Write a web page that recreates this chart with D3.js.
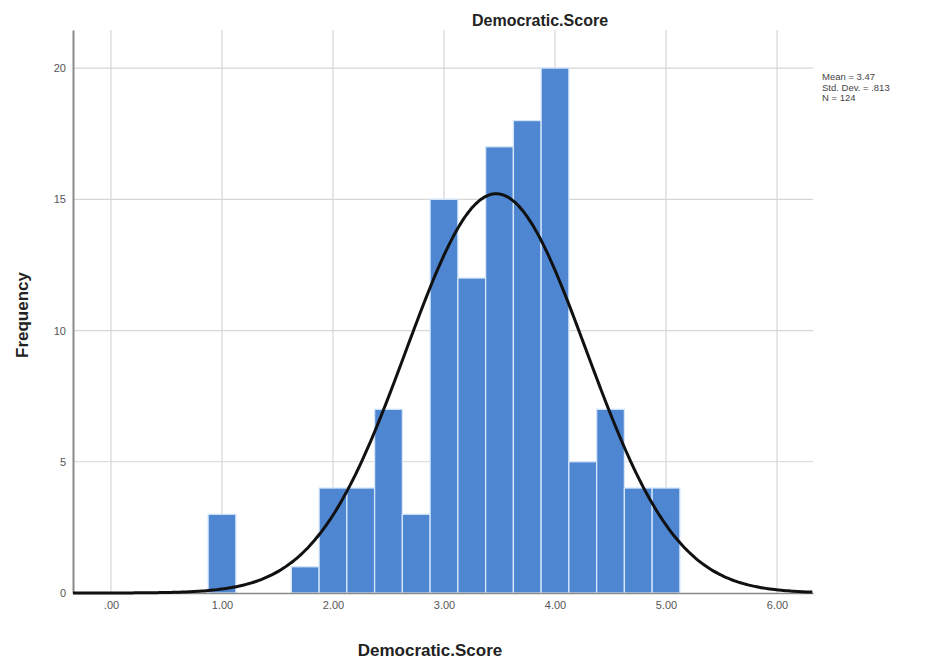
<!DOCTYPE html>
<html>
<head>
<meta charset="utf-8">
<script src="https://cdn.jsdelivr.net/npm/d3@7"></script>
<style>
  body { margin: 0; background: #fff; }
  svg { font-family: "Liberation Sans", Arial, sans-serif; }
</style>
</head>
<body>
<div class="chart"></div>
<script>

// histogram bins (lower edge, upper edge) and counts
var binStart = [0.875, 1.625, 1.875, 2.125, 2.375, 2.625, 2.875, 3.125, 3.375, 3.625, 3.875, 4.125, 4.375, 4.625, 4.875];
var binEnd = [1.125, 1.875, 2.125, 2.375, 2.625, 2.875, 3.125, 3.375, 3.625, 3.875, 4.125, 4.375, 4.625, 4.875, 5.125];
var counts = [3, 1, 4, 4, 7, 3, 15, 12, 17, 18, 20, 5, 7, 4, 4];
var xTicks = [0, 1, 2, 3, 4, 5, 6];
var yTicks = [0, 5, 10, 15, 20];
var stats = ["Mean = 3.47", "Std. Dev. = .813", "N = 124"];
var mean = 3.47, sd = 0.813, n = 124, binWidth = 0.25;

var width = 935, height = 663;
var plotLeft = 73, plotRight = 813, plotTop = 30, plotBottom = 593;

var svg = d3.select('.chart')
    .append('svg')
    .attr('width', width)
    .attr('height', height);

var scaleX = d3.scaleLinear()
    .domain([-0.342, 6.324])
    .range([plotLeft, plotRight]);

var scaleY = d3.scaleLinear()
    .domain([0, 21.45])
    .range([plotBottom, plotTop]);

// grid
svg.append('g')
    .selectAll('line')
    .data(xTicks)
    .enter()
    .append('line')
    .attr('x1', d => scaleX(d))
    .attr('x2', d => scaleX(d))
    .attr('y1', plotTop)
    .attr('y2', plotBottom)
    .attr('stroke', '#d6d6d6')
    .attr('stroke-width', 1.2);

svg.append('g')
    .selectAll('line')
    .data(yTicks.slice(1))
    .enter()
    .append('line')
    .attr('x1', plotLeft)
    .attr('x2', plotRight)
    .attr('y1', d => scaleY(d))
    .attr('y2', d => scaleY(d))
    .attr('stroke', '#d6d6d6')
    .attr('stroke-width', 1.2);

// bars
svg.append('g')
    .selectAll('rect')
    .data(counts)
    .enter()
    .append('rect')
    .attr('x', (d, i) => scaleX(binStart[i]))
    .attr('y', d => scaleY(d))
    .attr('width', (d, i) => scaleX(binEnd[i]) - scaleX(binStart[i]))
    .attr('height', d => scaleY(0) - scaleY(d))
    .attr('fill', '#4f86d2')
    .attr('stroke', '#d4e6fa')
    .attr('stroke-width', 1.3);

// axes
var axisX = d3.axisBottom(scaleX)
    .tickValues(xTicks)
    .tickSize(0)
    .tickPadding(8)
    .tickFormat(d => d === 0 ? '.00' : d3.format('.2f')(d));

var axisY = d3.axisLeft(scaleY)
    .tickValues(yTicks)
    .tickSize(0)
    .tickPadding(7)
    .tickFormat(d3.format('d'));

var gx = svg.append('g')
    .attr('transform', 'translate(0,' + plotBottom + ')')
    .call(axisX);
gx.select('.domain').attr('stroke', '#8a8a8a').attr('stroke-width', 1.5);

var gy = svg.append('g')
    .attr('transform', 'translate(' + plotLeft + ',0)')
    .call(axisY);
gy.select('.domain').attr('stroke', '#8a8a8a').attr('stroke-width', 2);

svg.selectAll('.tick text')
    .attr('fill', '#555')
    .style('font-size', '11px');

// normal curve
var curveX = d3.range(-0.342, 6.33, 0.02);
var line = d3.line()
    .x(d => scaleX(d))
    .y(d => scaleY(n * binWidth * Math.exp(-0.5 * Math.pow((d - mean) / sd, 2)) / (sd * Math.sqrt(2 * Math.PI))))
    .curve(d3.curveBasis);

svg.append('path')
    .datum(curveX)
    .attr('d', line)
    .attr('fill', 'none')
    .attr('stroke', '#111')
    .attr('stroke-width', 3);

// titles
svg.append('text')
    .attr('x', 540)
    .attr('y', 26)
    .style('text-anchor', 'middle')
    .style('font-size', '16px')
    .style('font-weight', 'bold')
    .attr('fill', '#222')
    .text('Democratic.Score');

svg.append('text')
    .attr('x', 430)
    .attr('y', 656)
    .style('text-anchor', 'middle')
    .style('font-size', '17px')
    .style('font-weight', 'bold')
    .attr('fill', '#222')
    .text('Democratic.Score');

svg.append('text')
    .attr('transform', 'translate(28,315) rotate(-90)')
    .style('text-anchor', 'middle')
    .style('font-size', '17px')
    .style('font-weight', 'bold')
    .attr('fill', '#222')
    .text('Frequency');

svg.append('g')
    .selectAll('text')
    .data(stats)
    .enter()
    .append('text')
    .attr('x', 822)
    .attr('y', (d, i) => 80 + i * 10.5)
    .style('font-size', '9.5px')
    .attr('fill', '#444')
    .text(d => d);

</script>
</body>
</html>
